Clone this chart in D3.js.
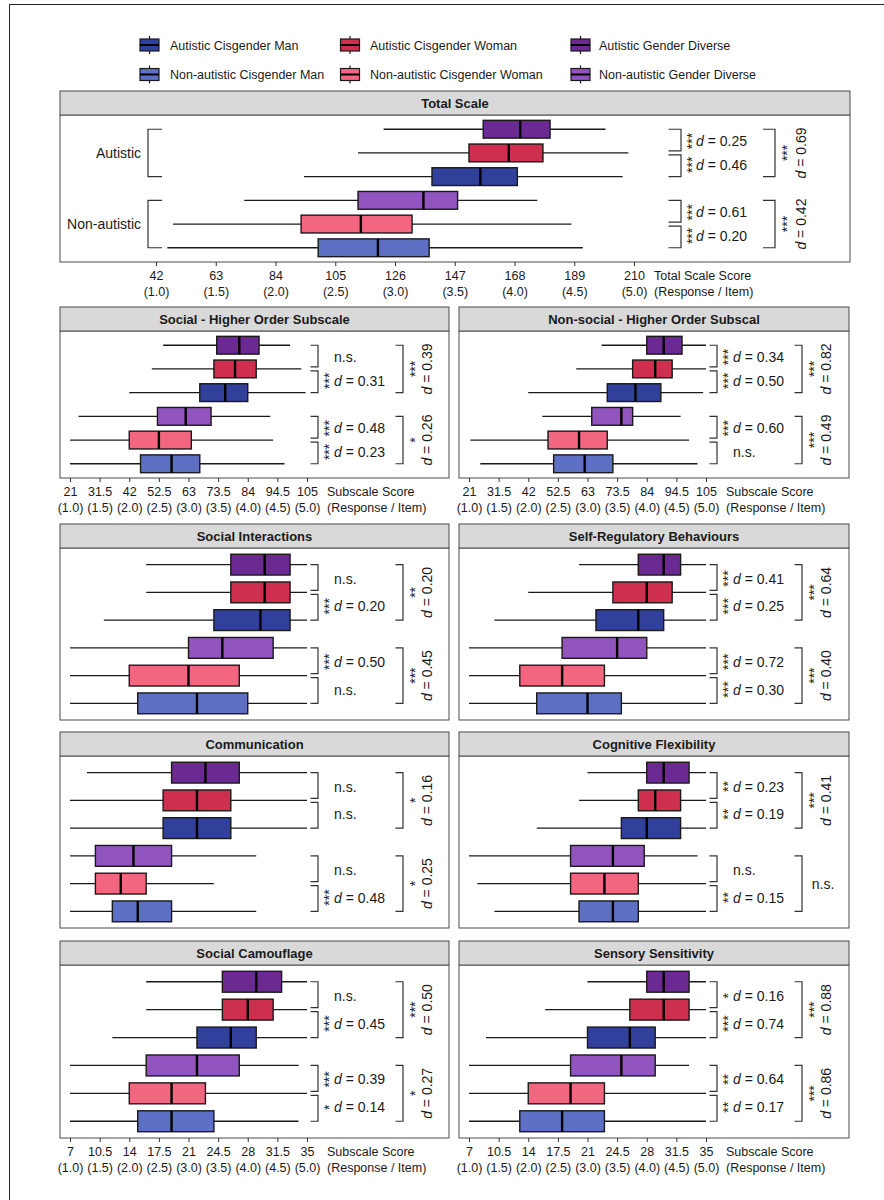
<!DOCTYPE html>
<html><head><meta charset="utf-8">
<script src="https://cdn.jsdelivr.net/npm/d3@7"></script>
<style>
body{margin:0;background:#fff;}
svg{display:block;font-family:"Liberation Sans",Arial,Helvetica,sans-serif;}
</style>
</head><body>
<svg id="chart" width="884" height="1200"></svg>
<script>
// ---------------- DATA ----------------
const groups = ["Autistic Gender Diverse","Autistic Cisgender Woman","Autistic Cisgender Man",
                "Non-autistic Gender Diverse","Non-autistic Cisgender Woman","Non-autistic Cisgender Man"];
const groupColors = ["#6b2a92","#cf2f4f","#31409a","#9254be","#f26680","#5d70c4"];
const legendOrder = ["Autistic Cisgender Man","Autistic Cisgender Woman","Autistic Gender Diverse",
                     "Non-autistic Cisgender Man","Non-autistic Cisgender Woman","Non-autistic Gender Diverse"];
const diagnosisLabels = ["Autistic","Non-autistic"];

const totalTicks  = [42,63,84,105,126,147,168,189,210];
const higherTicks = [21,31.5,42,52.5,63,73.5,84,94.5,105];
const subTicks    = [7,10.5,14,17.5,21,24.5,28,31.5,35];
const itemTickLabels = ["(1.0)","(1.5)","(2.0)","(2.5)","(3.0)","(3.5)","(4.0)","(4.5)","(5.0)"];

// five-number summaries per group (order of `groups`): [lower whisker, Q1, median, Q3, upper whisker]
const totalScaleStats = [[122,157,170,180.5,200],[113,152,166,178,208],[94,139,156,169,206],
                         [73,113,136,148,176],[48,93,114,132,188],[46,99,120,138,192]];
const socialHigherStats = [[54,73,81,88,99],[50,72,79.5,87,103],[42,67,76,84,104.5],
                           [24,52,62,71,92],[21,42,52.5,64,93],[21,46,57,67,97]];
const nonSocialHigherStats = [[68,84,90,96.5,105],[59,79,87,93,105],[42,70,80,89,104],
                              [47,64.5,75,79,96],[21.5,49,60,70,99],[25,51,62,72,102]];
const socialInteractionsStats = [[16,26,30,33,35],[16,26,30,33,35],[11,24,29.5,33,35],
                                 [7,21,25,31,35],[7,14,21,27,35],[7,15,22,28,35]];
const selfRegulatoryStats = [[20,27,30,32,35],[14,24,28,31,35],[10,22,27,30,35],
                             [7,18,24.5,28,35],[7,13,18,23,35],[7,15,21,25,35]];
const communicationStats = [[9,19,23,27,35],[7,18,22,26,35],[7,18,22,26,35],
                            [7,10,14.5,19,29],[7,10,13,16,24],[7,12,15,19,29]];
const cognitiveFlexibilityStats = [[21,28,30,33,35],[20,27,29,32,35],[15,25,28,32,35],
                                   [7,19,24,27.7,34],[8,19,23,27,35],[10,20,24,27,35]];
const socialCamouflageStats = [[16,25,29,32,35],[16,25,28,31,35],[12,22,26,29,35],
                               [7,16,22,27,34],[7,14,19,23,35],[7,15,19,24,34]];
const sensorySensitivityStats = [[21,28,30,33,35],[16,26,30,33,35],[9,21,26,29,35],
                                 [7,19,25,29,33],[7,14,19,23,35],[7,13,18,23,35]];

// pairwise tests: inner = [GD vs CW, CW vs CM] for autistic then non-autistic; outer = autistic, non-autistic
const totalScaleInner = [["***","0.25"],["***","0.46"],["***","0.61"],["***","0.20"]];
const totalScaleOuter = [["***","0.69"],["***","0.42"]];
const socialHigherInner = [["n.s.",null],["***","0.31"],["***","0.48"],["***","0.23"]];
const socialHigherOuter = [["***","0.39"],["*","0.26"]];
const nonSocialHigherInner = [["***","0.34"],["***","0.50"],["***","0.60"],["n.s.",null]];
const nonSocialHigherOuter = [["***","0.82"],["***","0.49"]];
const socialInteractionsInner = [["n.s.",null],["***","0.20"],["***","0.50"],["n.s.",null]];
const socialInteractionsOuter = [["**","0.20"],["***","0.45"]];
const selfRegulatoryInner = [["***","0.41"],["***","0.25"],["***","0.72"],["***","0.30"]];
const selfRegulatoryOuter = [["***","0.64"],["***","0.40"]];
const communicationInner = [["n.s.",null],["n.s.",null],["n.s.",null],["***","0.48"]];
const communicationOuter = [["*","0.16"],["*","0.25"]];
const cognitiveFlexibilityInner = [["**","0.23"],["**","0.19"],["n.s.",null],["**","0.15"]];
const cognitiveFlexibilityOuter = [["***","0.41"],["n.s.",null]];
const socialCamouflageInner = [["n.s.",null],["***","0.45"],["***","0.39"],["*","0.14"]];
const socialCamouflageOuter = [["***","0.50"],["*","0.27"]];
const sensorySensitivityInner = [["*","0.16"],["***","0.74"],["**","0.64"],["**","0.17"]];
const sensorySensitivityOuter = [["***","0.88"],["***","0.86"]];

// ---------------- LAYOUT ----------------
const panels = [
  {title:"Total Scale", stats:totalScaleStats, inner:totalScaleInner, outer:totalScaleOuter,
   ticks:totalTicks, axisTitle:"Total Scale Score", frame:[60,91,850,262], total:true},
  {title:"Social - Higher Order Subscale", stats:socialHigherStats, inner:socialHigherInner, outer:socialHigherOuter,
   ticks:higherTicks, axisTitle:"Subscale Score", frame:[60,307,449,478]},
  {title:"Non-social - Higher Order Subscal", stats:nonSocialHigherStats, inner:nonSocialHigherInner, outer:nonSocialHigherOuter,
   ticks:higherTicks, axisTitle:"Subscale Score", frame:[459,307,849,478]},
  {title:"Social Interactions", stats:socialInteractionsStats, inner:socialInteractionsInner, outer:socialInteractionsOuter,
   ticks:subTicks, frame:[60,524,449,720], noAxis:true},
  {title:"Self-Regulatory Behaviours", stats:selfRegulatoryStats, inner:selfRegulatoryInner, outer:selfRegulatoryOuter,
   ticks:subTicks, frame:[459,524,849,720], noAxis:true},
  {title:"Communication", stats:communicationStats, inner:communicationInner, outer:communicationOuter,
   ticks:subTicks, frame:[60,732,449,928], noAxis:true},
  {title:"Cognitive Flexibility", stats:cognitiveFlexibilityStats, inner:cognitiveFlexibilityInner, outer:cognitiveFlexibilityOuter,
   ticks:subTicks, frame:[459,732,849,928], noAxis:true},
  {title:"Social Camouflage", stats:socialCamouflageStats, inner:socialCamouflageInner, outer:socialCamouflageOuter,
   ticks:subTicks, axisTitle:"Subscale Score", frame:[60,941,449,1138]},
  {title:"Sensory Sensitivity", stats:sensorySensitivityStats, inner:sensorySensitivityInner, outer:sensorySensitivityOuter,
   ticks:subTicks, axisTitle:"Subscale Score", frame:[459,941,849,1138]}
];

const svg = d3.select("#chart");
const ink = "#1a1a1a";
const colorScale = d3.scaleOrdinal().domain(groups).range(groupColors);

// outer figure border (only top and left edges fall inside the picture)
svg.append("rect").attr("x",9.5).attr("y",4.5).attr("width",900).attr("height",1220)
  .attr("fill","none").attr("stroke","#222").attr("stroke-width",1);

// ---------------- LEGEND ----------------
const legCols = [149.5, 350, 580.5], legText = [170, 370, 599], legRows = [45, 74.5];
const legend = svg.append("g");
legendOrder.forEach((name,i)=>{
  const cx = legCols[i%3], cy = legRows[Math.floor(i/3)];
  const g = legend.append("g");
  g.append("line").attr("x1",cx).attr("x2",cx).attr("y1",cy-9).attr("y2",cy+9)
    .attr("stroke",ink).attr("stroke-width",1.2);
  g.append("rect").attr("x",cx-9.5).attr("y",cy-6).attr("width",19).attr("height",12)
    .attr("fill",colorScale(name)).attr("stroke",ink).attr("stroke-width",1.2);
  g.append("line").attr("x1",cx-9.5).attr("x2",cx+9.5).attr("y1",cy).attr("y2",cy)
    .attr("stroke","#000").attr("stroke-width",2);
  g.append("text").attr("x",legText[i%3]).attr("y",cy).attr("dy","0.36em")
    .attr("font-size",12.5).attr("fill",ink).text(name);
});

// ---------------- PANELS ----------------
const stripH = 24;

function bracket(g, x, y0, y1, len){
  g.append("path").attr("d",`M${x-len},${y0}H${x}V${y1}H${x-len}`)
    .attr("fill","none").attr("stroke","#333").attr("stroke-width",1.2);
}
function rotStars(g, x, y, s){
  g.append("text").attr("transform",`translate(${x},${y}) rotate(-90)`)
    .attr("text-anchor","middle").attr("dy","0.58em").attr("font-size",14).attr("fill",ink).text(s);
}
function dText(g, x, y, d, rotated){
  const t = g.append("text").attr("font-size",14).attr("fill",ink).attr("dy","0.36em");
  if(rotated){ t.attr("transform",`translate(${x},${y}) rotate(-90)`).attr("text-anchor","middle"); }
  else { t.attr("x",x).attr("y",y); }
  t.append("tspan").attr("font-style","italic").text("d");
  t.append("tspan").text(" = " + d);
}

panels.forEach(p=>{
  const [fx0, sy0, fx1, by1] = p.frame;
  const g = svg.append("g");
  const bodyTop = sy0 + stripH;
  const n = p.ticks.length;
  const lo = p.ticks[0], hi = p.ticks[n-1];

  const x = d3.scaleLinear().domain([lo,hi])
    .range(p.total ? [fx0+96, fx0+574] : [fx0+10, fx0+247]);
  const y = d3.scalePoint().domain(groups).range([bodyTop, by1]).padding(0.6);
  const bh = y.step()*0.75;

  // strip & frame
  g.append("rect").attr("x",fx0).attr("y",bodyTop).attr("width",fx1-fx0).attr("height",by1-bodyTop)
    .attr("fill","#fff").attr("stroke","#4d4d4d").attr("stroke-width",1);
  g.append("rect").attr("x",fx0).attr("y",sy0).attr("width",fx1-fx0).attr("height",stripH)
    .attr("fill","#d9d9d9").attr("stroke","#4d4d4d").attr("stroke-width",1);
  g.append("text").attr("x",(fx0+fx1)/2).attr("y",sy0+stripH/2).attr("dy","0.36em")
    .attr("text-anchor","middle").attr("font-size",13).attr("font-weight","bold").attr("fill",ink).text(p.title);

  // boxplots
  const rows = g.append("g").selectAll("g").data(p.stats).join("g")
    .attr("transform",(d,i)=>`translate(0,${y(groups[i])})`);
  rows.append("line").attr("x1",d=>x(d[0])).attr("x2",d=>x(d[4])).attr("y1",0).attr("y2",0)
    .attr("stroke",ink).attr("stroke-width",1.3);
  rows.append("rect").attr("x",d=>x(d[1])).attr("width",d=>x(d[3])-x(d[1]))
    .attr("y",-bh/2).attr("height",bh)
    .attr("fill",(d,i)=>colorScale(groups[i])).attr("stroke",ink).attr("stroke-width",1.4);
  rows.append("line").attr("x1",d=>x(d[2])).attr("x2",d=>x(d[2])).attr("y1",-bh/2).attr("y2",bh/2)
    .attr("stroke","#000").attr("stroke-width",2.4);

  // axis
  if(!p.noAxis){
    const ax = g.append("g").attr("transform",`translate(0,${by1})`)
      .call(d3.axisBottom(x).tickValues(p.ticks).tickSize(4).tickSizeOuter(0).tickFormat(d=>String(d)));
    ax.select(".domain").remove();
    ax.selectAll(".tick line").attr("stroke","#333");
    ax.selectAll(".tick text").each(function(d,i){
      const t = d3.select(this).text(null).attr("y",0).attr("dy",null)
        .attr("font-size",12.5).attr("fill",ink).attr("font-family",null);
      t.append("tspan").attr("x",0).attr("y",18).text(String(d));
      t.append("tspan").attr("x",0).attr("y",33.5).text(itemTickLabels[i]);
    });
    const at = g.append("text").attr("font-size",12.5).attr("fill",ink);
    at.append("tspan").attr("x",x(hi)+20).attr("y",by1+18).text(p.axisTitle);
    at.append("tspan").attr("x",x(hi)+20).attr("y",by1+33.5).text("(Response / Item)");
  }

  // annotation positions
  const o = p.total
    ? {br:47, len:12.5, st:55, tx:62, obr:141, olen:12, ost:150, otx:166.5}
    : {br:11, len:7.5, st:19, tx:27, obr:96, olen:7.5, ost:105, otx:120};
  const xm = x(hi);
  const r = groups.map(gn=>y(gn));
  const innerSpans = [[r[0], r[1]-2],[r[1]+2, r[2]],[r[3], r[4]-2],[r[4]+2, r[5]]];
  const innerMid = [(r[0]+r[1])/2,(r[1]+r[2])/2,(r[3]+r[4])/2,(r[4]+r[5])/2];
  p.inner.forEach((t,k)=>{
    bracket(g, xm+o.br, innerSpans[k][0], innerSpans[k][1], o.len);
    if(t[1]===null){
      g.append("text").attr("x",xm+o.tx).attr("y",innerMid[k]).attr("dy","0.36em")
        .attr("font-size",14).attr("fill",ink).text(t[0]);
    } else {
      rotStars(g, xm+o.st, innerMid[k], t[0]);
      dText(g, xm+o.tx, innerMid[k], t[1], false);
    }
  });
  const outerSpans = [[r[0], r[2]],[r[3], r[5]]];
  const outerMid = [r[1], r[4]];
  p.outer.forEach((t,k)=>{
    bracket(g, xm+o.obr, outerSpans[k][0], outerSpans[k][1], o.olen);
    if(t[1]===null){
      g.append("text").attr("x",xm+o.otx-3).attr("y",outerMid[k]).attr("dy","0.36em")
        .attr("text-anchor","middle").attr("font-size",14).attr("fill",ink).text(t[0]);
    } else {
      rotStars(g, xm+o.ost, outerMid[k], t[0]);
      dText(g, xm+o.otx, outerMid[k], t[1], true);
    }
  });

  // diagnosis labels (Total Scale only)
  if(p.total){
    const xl = x(lo);
    [[r[0],r[2],r[1]],[r[3],r[5],r[4]]].forEach((s,k)=>{
      g.append("path").attr("d",`M${xl+6},${s[0]}H${xl-8}V${s[1]}H${xl+6}`)
        .attr("fill","none").attr("stroke","#333").attr("stroke-width",1.2);
      g.append("text").attr("x",xl-15).attr("y",s[2]).attr("dy","0.36em").attr("text-anchor","end")
        .attr("font-size",14).attr("fill",ink).text(diagnosisLabels[k]);
    });
  }
});
</script>
</body></html>
